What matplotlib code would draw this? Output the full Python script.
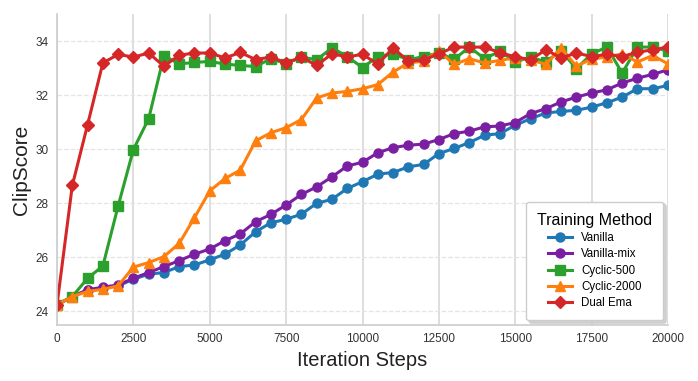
"""ClipScore vs iteration steps for several training methods."""
import matplotlib
import numpy as np

matplotlib.use("Agg")
import matplotlib.pyplot as plt  # noqa: E402

plt.rcParams["font.family"] = ["Liberation Sans", "DejaVu Sans"]

# Pasos de entrenamiento (cada 500 iteraciones)
steps = np.arange(0, 20001, 500)

vanilla = [24.25, 24.55, 24.80, 24.86, 24.95, 25.19, 25.38, 25.44, 25.66, 25.72,
           25.91, 26.12, 26.46, 26.95, 27.28, 27.41, 27.60, 28.00, 28.15, 28.55,
           28.80, 29.08, 29.14, 29.35, 29.44, 29.84, 30.03, 30.25, 30.52, 30.58,
           30.89, 31.13, 31.34, 31.40, 31.44, 31.56, 31.72, 31.93, 32.24, 32.24,
           32.36]
vanilla_mix = [24.25, 24.55, 24.80, 24.90, 24.98, 25.23, 25.44, 25.66, 25.88, 26.12,
               26.31, 26.62, 26.87, 27.32, 27.59, 27.94, 28.33, 28.61, 28.98, 29.38,
               29.52, 29.87, 30.06, 30.15, 30.19, 30.36, 30.58, 30.67, 30.83, 30.86,
               30.99, 31.32, 31.50, 31.75, 31.93, 32.08, 32.20, 32.45, 32.63, 32.77,
               32.94]
cyclic_500 = [24.25, 24.55, 25.23, 25.68, 27.90, 29.99, 31.13, 33.46, 33.16, 33.21,
              33.25, 33.15, 33.10, 33.06, 33.35, 33.17, 33.41, 33.31, 33.75, 33.43,
              33.02, 33.43, 33.53, 33.31, 33.43, 33.56, 33.33, 33.78, 33.35, 33.63,
              33.23, 33.41, 33.23, 33.65, 32.98, 33.53, 33.78, 32.82, 33.78, 33.78,
              33.63]
cyclic_2000 = [24.25, 24.55, 24.74, 24.82, 24.95, 25.64, 25.81, 26.03, 26.52, 27.47,
               28.46, 28.92, 29.23, 30.31, 30.61, 30.80, 31.10, 31.90, 32.08, 32.14,
               32.24, 32.39, 32.86, 33.19, 33.26, 33.63, 33.14, 33.35, 33.19, 33.29,
               33.38, 33.31, 33.14, 33.75, 33.07, 33.34, 33.41, 33.53, 33.23, 33.47,
               33.16]
dual_ema = [24.25, 28.66, 30.91, 33.19, 33.51, 33.41, 33.56, 33.07, 33.48, 33.56,
            33.56, 33.38, 33.58, 33.32, 33.41, 33.20, 33.40, 33.10, 33.53, 33.42,
            33.51, 33.15, 33.74, 33.27, 33.30, 33.53, 33.78, 33.78, 33.78, 33.57,
            33.42, 33.31, 33.68, 33.38, 33.56, 33.43, 33.51, 33.43, 33.59, 33.68,
            33.78]

# (etiqueta, valores, color, marcador)
SERIES = [
    ("Vanilla", vanilla, "#1f77b4", "o"),
    ("Vanilla-mix", vanilla_mix, "#7b1fa2", "o"),
    ("Cyclic-500", cyclic_500, "#2ca02c", "s"),
    ("Cyclic-2000", cyclic_2000, "#ff7f0e", "^"),
    ("Dual Ema", dual_ema, "#d62728", "D"),
]

x_ticks = [0, 2500, 5000, 7500, 10000, 12500, 15000, 17500, 20000]
y_ticks = [24, 26, 28, 30, 32, 34]

fig = plt.figure(figsize=(6.98, 3.81), dpi=100)
ax = fig.add_axes([0.0817, 0.147, 0.8753, 0.816])

for label, values, color, marker in SERIES:
    ax.plot(steps, values, color=color, marker=marker, linewidth=2.2,
            markersize=6.5, label=label)

ax.set_xlim(0, 20000)
ax.set_ylim(23.5, 35)
ax.set_xticks(x_ticks)
ax.set_yticks(y_ticks)
ax.tick_params(length=0, labelsize=8.5, colors="#333333", pad=6)

ax.grid(axis="x", color="#d5d5d5", linewidth=1.1)
ax.grid(axis="y", color="#e4e4e4", linewidth=0.9, linestyle="--")
ax.set_axisbelow(True)
for side in ["top", "right"]:
    ax.spines[side].set_visible(False)
for side in ["left", "bottom"]:
    ax.spines[side].set_color("#cccccc")
    ax.spines[side].set_linewidth(1.2)

ax.set_xlabel("Iteration Steps", fontsize=14.5, color="#222222", labelpad=4)
ax.set_ylabel("ClipScore", fontsize=15, color="#222222", labelpad=3)

leg = ax.legend(title="Training Method", loc="lower right", fontsize=8.3,
                title_fontsize=11.5, frameon=True, fancybox=True,
                shadow={"color": "#c8c8c8", "alpha": 0.8},
                borderpad=0.95, labelspacing=0.38, handlelength=2.1,
                borderaxespad=0.4)
leg.get_frame().set_edgecolor("#cccccc")
leg.get_frame().set_alpha(1.0)

fig.savefig("out.png", dpi=100)
plt.close(fig)
